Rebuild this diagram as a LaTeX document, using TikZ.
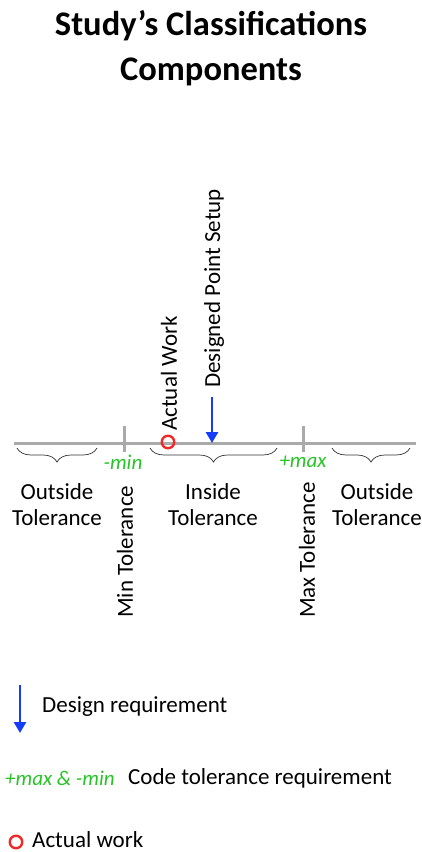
\documentclass[tikz,border=0pt]{standalone}
\usepackage{fontspec}
\setmainfont{Carlito}
\usetikzlibrary{decorations.pathreplacing,arrows.meta}
\definecolor{axisgray}{RGB}{170,170,170}
\definecolor{tolgreen}{RGB}{40,195,40}
\definecolor{arrowblue}{RGB}{20,60,250}
\definecolor{workred}{RGB}{240,40,40}
\tikzset{
  axis/.style={draw=axisgray, line width=3pt},
  tick/.style={draw=axisgray, line width=3pt},
  bracestyle/.style={draw=black!80, line width=0.7pt, decorate, decoration={brace, mirror, amplitude=14pt}},
  lbl/.style={font=\fontsize{23}{26}\selectfont, align=center, inner sep=0pt},
  vlbl/.style={font=\fontsize{23}{26}\selectfont, rotate=90, anchor=west, inner sep=0pt},
  tol/.style={font=\fontsize{21}{24}\selectfont\itshape, text=tolgreen, inner sep=0pt},
  design/.style={draw=arrowblue, line width=2.6pt, -{Triangle[length=11pt,width=12pt]}},
  work/.style={draw=workred, line width=2.4pt, circle, minimum size=12.5pt, inner sep=0pt},
  legend/.style={font=\fontsize{23}{26}\selectfont, anchor=west, inner sep=0pt},
}
\begin{document}
\begin{tikzpicture}[x=1pt, y=-1pt]
\useasboundingbox (0,0) rectangle (422,852);
% title
\node[font=\fontsize{34.5}{45}\selectfont\bfseries, align=center, inner sep=0pt] (title) at (211,48) {Study’s Classifications\\Components};
% axis
\coordinate (axL) at (14,443);
\coordinate (axR) at (416,443);
\draw[axis] (axL) -- (axR);
\coordinate (minT) at (124,426);
\coordinate (minB) at (124,452);
\coordinate (maxT) at (303,426);
\coordinate (maxB) at (303,452);
\draw[tick] (minT) -- (minB);
\draw[tick] (maxT) -- (maxB);
% markers
\node[work] (aw) at (168,442) {};
\coordinate (dtop) at (212,397);
\coordinate (dtip) at (212,443);
\draw[design] (dtop) -- (dtip);
\node[vlbl] (awlbl) at (169,431) {Actual Work};
\node[vlbl] (dplbl) at (214,388) {Designed Point Setup};
% braces
\coordinate (b1a) at (17,448); \coordinate (b1b) at (97,448);
\coordinate (b2a) at (150,448); \coordinate (b2b) at (277,448);
\coordinate (b3a) at (332,448); \coordinate (b3b) at (410,448);
\draw[bracestyle] (b1a) -- (b1b);
\draw[bracestyle] (b2a) -- (b2b);
\draw[bracestyle] (b3a) -- (b3b);
% tolerance labels
\node[tol] (minlbl) at (123,462) {-min};
\node[tol] (maxlbl) at (303,462) {+max};
\node[lbl] (out1) at (57,505) {Outside\\Tolerance};
\node[lbl] (ins) at (213,505) {Inside\\Tolerance};
\node[lbl] (out2) at (377,505) {Outside\\Tolerance};
\node[vlbl] (mintol) at (125,618) {Min Tolerance};
\node[vlbl] (maxtol) at (307,618) {Max Tolerance};
% legend
\coordinate (lgtop) at (20,685);
\coordinate (lgtip) at (20,733);
\draw[design] (lgtop) -- (lgtip);
\node[legend] (lg1) at (42,707) {Design requirement};
\node[legend, font=\fontsize{21}{24}\selectfont\itshape, text=tolgreen] (lg2a) at (5,778) {+max \& -min};
\node[legend] (lg2) at (128,778) {Code tolerance requirement};
\node[work] (lgw) at (16,842) {};
\node[legend] (lg3) at (32,840) {Actual work};
\end{tikzpicture}
\end{document}
